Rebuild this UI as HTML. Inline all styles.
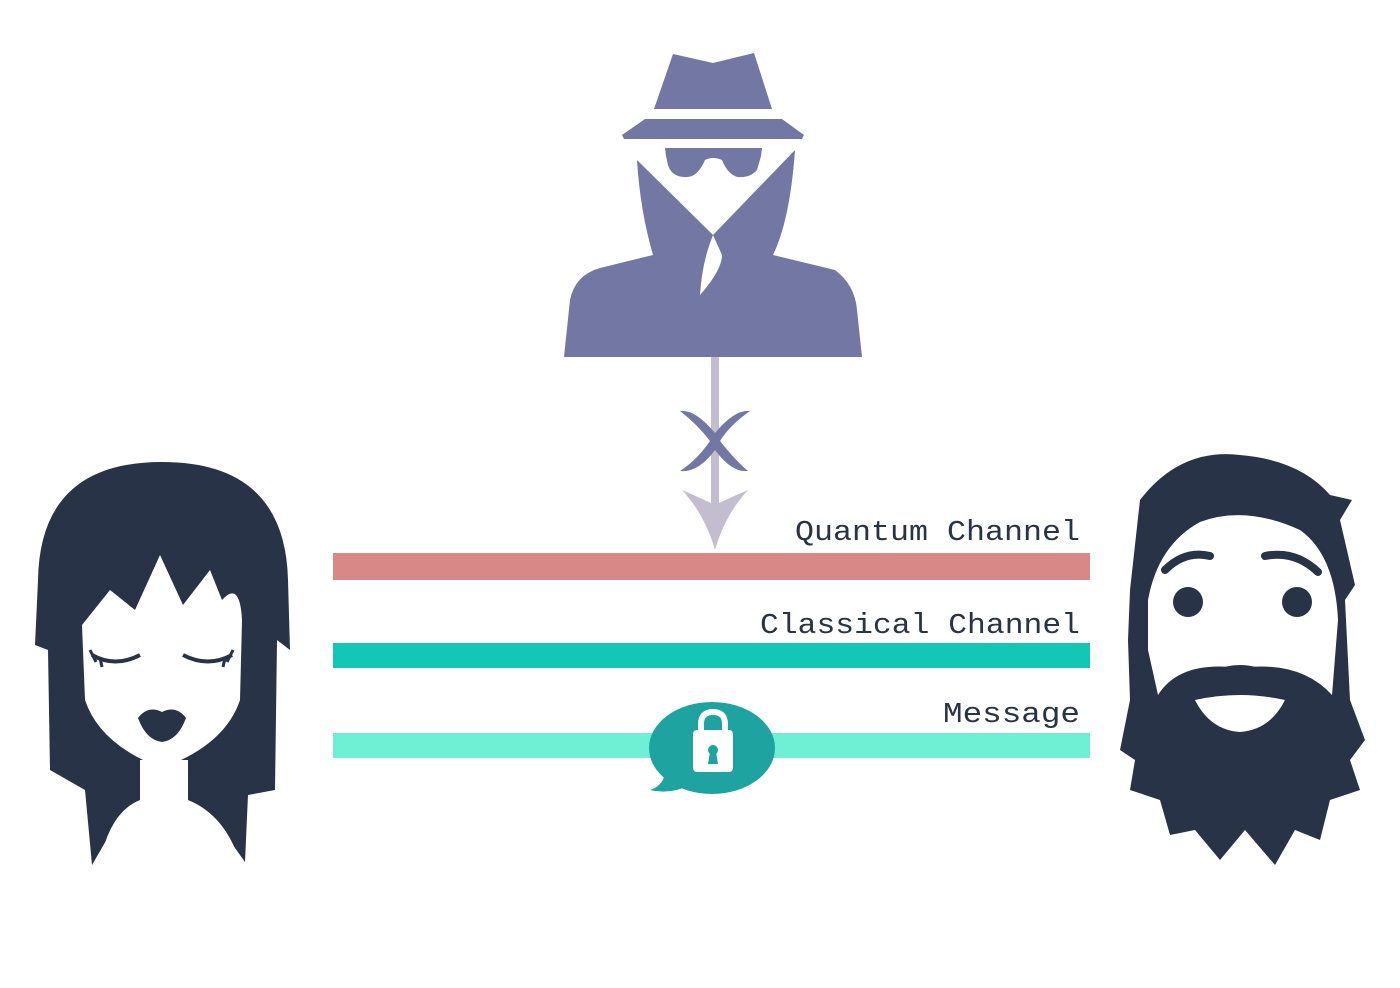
<!DOCTYPE html>
<html><head><meta charset="utf-8"><style>
html,body{margin:0;padding:0;background:#fff;}
svg{display:block;}
text{font-family:"Liberation Mono",monospace;font-size:29px;fill:#283347;}
</style></head><body>
<svg width="1400" height="988" viewBox="0 0 1400 988" xmlns="http://www.w3.org/2000/svg">
<!-- Spy -->
<g fill="#7277a4">
<path d="M673,54 L713,63 L754,53 L772,109 L654,109 Z"/>
<path d="M645,119 L782,119 L804,135 L802,139 L624,139 L622,135 Z"/>
<path d="M665,148 L762,148 L761,156 L757,170 Q750,178 738,177 Q728,175 722,160 Q713,156 705,160 Q698,176 688,177 Q672,178 668,165 L666,156 Z"/>
<path d="M637,160 L713,235 L795,150 Q790,220 773,255 L835,270 Q855,285 857,310 L862,357 L564,357 L570,300 Q575,275 600,268 L653,255 Q640,210 637,160 Z"/>
</g>
<path d="M713,235 L722,255 Q722,270 700,295 Q702,262 713,235 Z" fill="#fff"/>
<!-- arrow -->
<rect x="711" y="357" width="8" height="150" fill="#c4bdd0"/>
<path d="M682,490 Q705,500 715,505 Q725,500 748,490 Q725,515 715,550 Q705,515 682,490 Z" fill="#c4bdd0"/>
<path d="M680,411 Q695,409 715,433 Q735,409 750,411 Q730,425 720,441 Q735,460 748,471 Q732,473 715,450 Q698,473 680,471 Q697,460 710,441 Q698,425 680,411 Z" fill="#7277a4"/>
<!-- bars -->
<rect x="333" y="553" width="757" height="27" fill="#d98888"/>
<rect x="333" y="643" width="757" height="25" fill="#14c7b4"/>
<rect x="333" y="733" width="757" height="25" fill="#6ff0d5"/>
<text x="795" y="540" textLength="285" lengthAdjust="spacingAndGlyphs">Quantum Channel</text>
<text x="760" y="633" textLength="320" lengthAdjust="spacingAndGlyphs">Classical Channel</text>
<text x="943" y="722" textLength="137" lengthAdjust="spacingAndGlyphs">Message</text>
<!-- lock bubble -->
<ellipse cx="712" cy="748" rx="63" ry="46" fill="#1ea3a0"/>
<path d="M665,770 Q665,785 650,790 Q670,795 690,785 Z" fill="#1ea3a0"/>
<path d="M701,732 L701,724 Q701,712 713,712 Q725,712 725,724 L725,732" fill="none" stroke="#fff" stroke-width="6"/>
<rect x="693" y="730" width="40" height="42" rx="4" fill="#fff"/>
<circle cx="713" cy="750" r="5" fill="#1ea3a0"/>
<path d="M710,752 L716,752 L718,764 L708,764 Z" fill="#1ea3a0"/>
<!-- Alice -->
<path d="M38,580 Q40,462 162,462 Q285,462 288,580 L290,650 L277,640 L275,790 L248,795 L245,862 L215,820 Q165,790 118,820 L92,865 L85,790 L50,770 L48,650 L35,645 Z" fill="#283347"/>
<path d="M82,625 L110,590 L135,610 L160,555 L183,605 L210,570 L222,600 Q240,580 242,620 L240,700 Q225,745 162,768 Q100,745 85,700 Z" fill="#fff"/>
<path d="M140,760 L188,760 L188,800 Q225,815 240,862 L100,862 Q110,812 140,800 Z" fill="#fff"/>
<path d="M92,655 Q115,668 140,655 M183,655 Q208,668 232,655" fill="none" stroke="#283347" stroke-width="4"/>
<path d="M90,650 L96,662 M100,658 L102,667 M225,658 L223,667 M233,650 L227,662" stroke="#283347" stroke-width="3"/>
<path d="M138,718 Q148,705 162,712 Q176,705 186,718 Q178,740 162,742 Q146,740 138,718 Z" fill="#283347"/>
<!-- Bob -->
<path d="M1130,590 L1140,500 Q1180,448 1240,455 Q1300,460 1330,495 L1352,500 L1340,520 L1355,585 L1345,600 L1350,700 L1365,740 L1350,760 L1360,790 L1330,800 L1320,840 L1295,830 L1275,865 L1245,830 L1220,860 L1195,830 L1170,835 L1160,800 L1130,790 L1135,760 L1120,750 L1130,700 L1128,640 Z" fill="#283347"/>
<path d="M1148,600 Q1158,545 1200,522 Q1245,505 1300,530 Q1335,555 1338,620 L1332,695 Q1300,660 1240,668 Q1180,660 1158,695 L1148,650 Z" fill="#fff"/>
<path d="M1185,690 Q1240,640 1295,690 L1290,705 Q1240,690 1190,705 Z" fill="#283347"/>
<path d="M1195,700 Q1240,690 1285,700 Q1270,730 1240,732 Q1210,730 1195,700 Z" fill="#fff"/>
<circle cx="1188" cy="602" r="15" fill="#283347"/>
<circle cx="1297" cy="602" r="15" fill="#283347"/>
<path d="M1165,570 Q1185,550 1210,556 M1265,556 Q1295,550 1318,572" fill="none" stroke="#283347" stroke-width="8" stroke-linecap="round"/>
</svg>
</body></html>
